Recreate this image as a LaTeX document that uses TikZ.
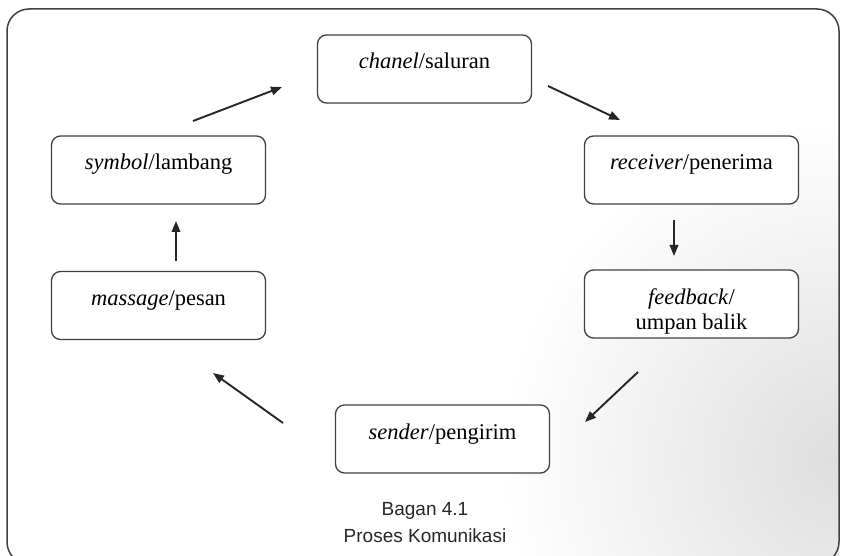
\documentclass[tikz,border=0pt]{standalone}
\usepackage{fontspec}
\setmainfont{Liberation Serif}
\newfontfamily\captionfont{Liberation Sans}
\usetikzlibrary{arrows.meta}
\begin{document}
\begin{tikzpicture}[x=1pt,y=-1pt,
  basebox/.style={draw=black!75, fill=white, line width=1.3pt, rounded corners=9pt,
    minimum width=214pt, minimum height=68pt, inner sep=0pt,
    font=\fontsize{22.5}{25}\selectfont},
  stagebox/.style={basebox, text height=16pt, text depth=16pt},
  twoline/.style={basebox, align=center, text height=55pt, text depth=5pt},
  flow/.style={line width=1.9pt, draw=black!85, -{Triangle[length=11pt,width=8.5pt]}}]
\useasboundingbox (0,0) rectangle (841,556);
% soft grey tone of the paper towards the lower right
\begin{scope}
  \clip (7,9) rectangle (839,556);
  \shade[inner color=black!13, outer color=white] (841,460) circle (340);
\end{scope}
% outer frame
\draw[line width=1.5pt, draw=black!75, rounded corners=22pt] (7,9) rectangle (839,564);

% stages of the process
\node[stagebox] (chanel)   at (424.5,69)  {\textit{chanel}/saluran};
\node[stagebox] (receiver) at (691.5,170) {\textit{receiver}/penerima};
\node[twoline]  (feedback) at (691.5,304) {\textit{feedback}/\\umpan balik};
\node[stagebox] (sender)   at (442.5,439) {\textit{sender}/pengirim};
\node[stagebox] (massage)  at (158.5,305.5) {\textit{massage}/pesan};
\node[stagebox] (symbol)   at (158.5,170) {\textit{symbol}/lambang};

% free-standing arrow ends between the stages
\coordinate (a1s) at (193,121); \coordinate (a1e) at (282,87);
\coordinate (a2s) at (548,86);  \coordinate (a2e) at (620,120);
\coordinate (a3s) at (674,220); \coordinate (a3e) at (674,256);
\coordinate (a4s) at (638,372); \coordinate (a4e) at (585,422);
\coordinate (a5s) at (283,423); \coordinate (a5e) at (213,373);
\coordinate (a6s) at (176,261); \coordinate (a6e) at (176,221);

\draw[flow] (a1s) -- (a1e);
\draw[flow] (a2s) -- (a2e);
\draw[flow] (a3s) -- (a3e);
\draw[flow] (a4s) -- (a4e);
\draw[flow] (a5s) -- (a5e);
\draw[flow] (a6s) -- (a6e);

% caption
\node[font=\captionfont\fontsize{19}{27}\selectfont, align=center, text=black!85] (caption)
  at (425,523) {Bagan 4.1\\Proses Komunikasi};
\end{tikzpicture}
\end{document}
